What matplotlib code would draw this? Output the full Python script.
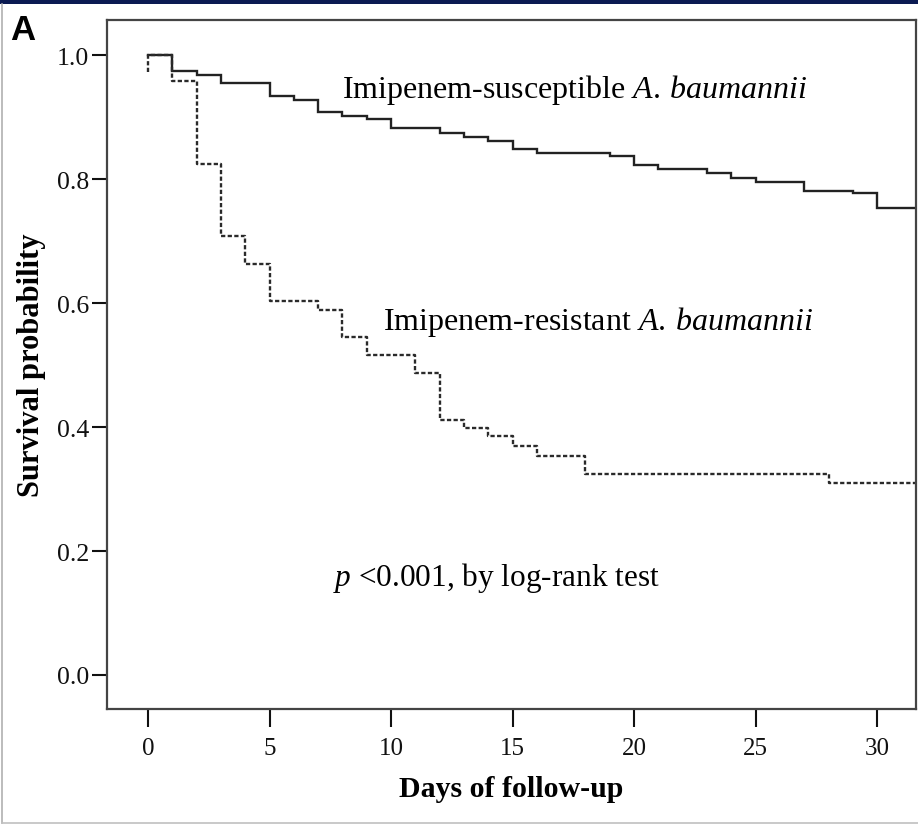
import matplotlib
matplotlib.use("Agg")
import matplotlib.pyplot as plt
from matplotlib.patches import Rectangle
from matplotlib.lines import Line2D

# ---- data ----
sus_days = [0, 1, 2, 3, 5, 6, 7, 8, 9, 10, 12, 13, 14, 15, 16, 19, 20, 21, 23, 24, 25, 27, 29, 30, 32]
sus_surv = [1.0, 0.975, 0.969, 0.955, 0.934, 0.928, 0.909, 0.902, 0.897, 0.882, 0.875, 0.868, 0.862,
            0.849, 0.842, 0.837, 0.823, 0.816, 0.810, 0.802, 0.796, 0.781, 0.777, 0.754, 0.754]

res_days = [0, 0, 1, 2, 3, 4, 5, 7, 8, 9, 11, 12, 13, 14, 15, 16, 18, 28, 32]
res_surv = [0.973, 1.0, 0.959, 0.824, 0.708, 0.663, 0.604, 0.589, 0.546, 0.517, 0.487, 0.412, 0.398,
            0.385, 0.370, 0.354, 0.325, 0.310, 0.310]

x_ticks = [0, 5, 10, 15, 20, 25, 30]
y_ticks = [0.0, 0.2, 0.4, 0.6, 0.8, 1.0]
y_tick_labels = ["0.0", "0.2", "0.4", "0.6", "0.8", "1.0"]

plt.rcParams['font.family'] = ['Liberation Serif', 'DejaVu Serif']
plt.rcParams['mathtext.fontset'] = 'custom'
plt.rcParams['mathtext.rm'] = 'Liberation Serif'
plt.rcParams['mathtext.it'] = 'Liberation Serif:italic'
plt.rcParams['mathtext.bf'] = 'Liberation Serif:bold'

W, H = 918, 829
fig = plt.figure(figsize=(W / 100, H / 100), dpi=100)
fig.patch.set_facecolor('white')

# navy bar at top, light gray frame
fig.add_artist(Rectangle((0, 1 - 5 / H), 1, 5 / H, transform=fig.transFigure,
                         facecolor='#0b1a52', edgecolor='none'))
fig.add_artist(Line2D([1.5 / W, 1.5 / W], [1 - 5 / H, 1 - 824 / H], transform=fig.transFigure,
                      color='#b0b0b0', lw=1.2))
fig.add_artist(Line2D([1.5 / W, 1], [1 - 824 / H, 1 - 824 / H], transform=fig.transFigure,
                      color='#c0c0c0', lw=1.2))

left, right, top, bottom = 107, 916, 21, 710
ax = fig.add_axes([left / W, 1 - bottom / H, (right - left) / W, (bottom - top) / H])

ax.step(sus_days, sus_surv, where='post', color='#222222', lw=1.7, solid_joinstyle='miter')
ax.step(res_days, res_surv, where='post', color='#2a2a2a', lw=1.7, dashes=(1.8, 1.0))

ax.set_xlim(-1.69, 31.6)
ax.set_ylim(-0.055, 1.057)
ax.set_xticks(x_ticks)
ax.set_yticks(y_ticks)
ax.set_yticklabels(y_tick_labels)
ax.tick_params(axis='x', direction='out', length=13, width=1.5, labelsize=18, pad=7, colors='#111111')
ax.tick_params(axis='y', direction='out', length=11, width=1.5, labelsize=18.5, pad=2, colors='#111111')
for s in ax.spines.values():
    s.set_linewidth(1.6)
    s.set_color('#444444')

ax.set_xlabel('Days of follow-up', fontsize=21.5, fontweight='bold', labelpad=12, color='#000000')
ax.set_ylabel('Survival probability', fontsize=22, fontweight='bold', labelpad=8, color='#000000')

ax.text(8.0, 0.945, r"Imipenem-susceptible $\mathit{A.}\:\mathit{baumannii}$", fontsize=23,
        va='center', ha='left', color='#000000')
ax.text(9.67, 0.571, r"Imipenem-resistant $\mathit{A.}\:\mathit{baumannii}$", fontsize=23,
        va='center', ha='left', color='#000000')
ax.text(7.6, 0.158, r"$\mathit{p}$ <0.001, by log-rank test", fontsize=22.5,
        va='center', ha='left', color='#000000')

fig.text(10 / W, 1 - 40 / H, 'A', family='Liberation Sans', fontweight='bold', fontsize=25,
         ha='left', va='baseline', color='#000000')

fig.savefig('out.png', dpi=100, facecolor='white')
